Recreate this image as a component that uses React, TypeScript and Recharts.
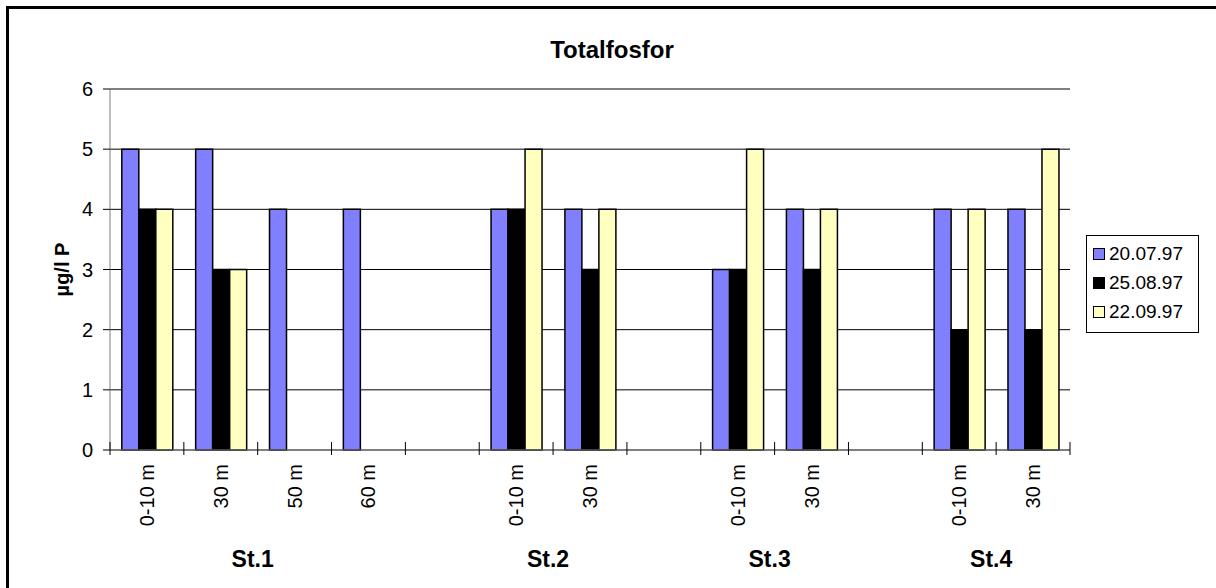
import React from 'react';
import { BarChart, Bar, XAxis, YAxis, CartesianGrid, Legend } from 'recharts';

const DEPTHS = ['0-10 m', '30 m', '50 m', '60 m', '', '0-10 m', '30 m', '', '0-10 m', '30 m', '', '0-10 m', '30 m'];
const STATIONS = ['St.1', 'St.1', 'St.1', 'St.1', '', 'St.2', 'St.2', '', 'St.3', 'St.3', '', 'St.4', 'St.4'];

const JULY = [5, 5, 4, 4, null, 4, 4, null, 3, 4, null, 4, 4];
const AUGUST = [4, 3, null, null, null, 4, 3, null, 3, 3, null, 2, 2];
const SEPTEMBER = [4, 3, null, null, null, 5, 4, null, 5, 4, null, 4, 5];

const Y_TICKS = [0, 1, 2, 3, 4, 5, 6];

const SERIES = [
	{ key: 'd1', name: '20.07.97', color: '#8080FF', values: JULY },
	{ key: 'd2', name: '25.08.97', color: '#000000', values: AUGUST },
	{ key: 'd3', name: '22.09.97', color: '#FFFFC0', values: SEPTEMBER },
];

const FONT = '"Liberation Sans", Arial, sans-serif';

const chartData = DEPTHS.map((depth, i) => {
	const row: Record<string, string | number | null> = { depth, station: STATIONS[i] };
	for (const s of SERIES) row[s.key] = s.values[i];
	return row;
});

function CategoryTick(props: any) {
	const { x, y, index } = props;
	const count = props.visibleTicksCount ?? DEPTHS.length;
	const band = (props.width ?? 960) / count;
	const label = DEPTHS[index];
	const station = STATIONS[index];
	let groupLabel = null;
	if (station && (index === 0 || STATIONS[index - 1] !== station)) {
		let n = 0;
		while (STATIONS[index + n] === station) n++;
		const gx = x + ((n - 1) / 2) * band - 5;
		groupLabel = (
			<text x={gx} y={y + 117} textAnchor="middle" fontFamily={FONT} fontSize={23} fontWeight="bold" fill="#000">
				{station}
			</text>
		);
	}
	return (
		<g>
			<line x1={x - band / 2} x2={x - band / 2} y1={y - 8} y2={y + 5} stroke="#000" strokeWidth={1} />
			{index === count - 1 && (
				<line x1={x + band / 2} x2={x + band / 2} y1={y - 8} y2={y + 5} stroke="#000" strokeWidth={1} />
			)}
			{label && (
				<text
					x={x}
					y={y + 14}
					dy="0.35em"
					textAnchor="end"
					transform={`rotate(-90, ${x}, ${y + 14})`}
					fontFamily={FONT}
					fontSize={20}
					fill="#000"
				>
					{label}
				</text>
			)}
			{groupLabel}
		</g>
	);
}

function LegendBox() {
	return (
		<div
			style={{
				border: '1px solid #000',
				background: '#fff',
				width: 111,
				height: 93,
				paddingTop: 3,
				boxSizing: 'content-box',
				fontFamily: FONT,
				fontSize: 19,
				color: '#000',
			}}
		>
			{SERIES.map((s) => (
				<div key={s.key} style={{ height: 29, display: 'flex', alignItems: 'center' }}>
					<span
						style={{
							display: 'inline-block',
							width: 10,
							height: 10,
							marginLeft: 6,
							marginRight: 4,
							background: s.color,
							border: '1.5px solid #000',
						}}
					/>
					<span>{s.name}</span>
				</div>
			))}
		</div>
	);
}

export default function App() {
	return (
		<div style={{ position: 'relative', width: 1216, height: 588, overflow: 'hidden', background: '#fff' }}>
			<style>{'body{margin:0;overflow:hidden;}'}</style>
			<div
				style={{
					position: 'absolute',
					left: 6,
					top: 6,
					width: 1300,
					height: 700,
					border: '3px solid #000',
				}}
			/>
			<div
				style={{
					position: 'absolute',
					left: 0,
					top: 38,
					width: 1224,
					textAlign: 'center',
					fontFamily: FONT,
					fontSize: 24,
					lineHeight: '24px',
					fontWeight: 'bold',
					color: '#000',
				}}
			>
				Totalfosfor
			</div>
			<BarChart
				width={1216}
				height={588}
				data={chartData}
				margin={{ top: 89, right: 146, bottom: 0, left: 60 }}
				barCategoryGap="16%"
				barGap={0}
				style={{ position: 'absolute', left: 0, top: 0 }}
			>
				<CartesianGrid vertical={false} stroke="#000" strokeWidth={1} />
				<XAxis
					dataKey="depth"
					interval={0}
					height={138}
					tickSize={0}
					tickMargin={0}
					tickLine={false}
					axisLine={{ stroke: '#808080', strokeWidth: 1 }}
					tick={<CategoryTick />}
					allowDuplicatedCategory
				/>
				<YAxis
					width={50}
					domain={[0, 6]}
					ticks={Y_TICKS}
					interval={0}
					tickSize={7}
					tickMargin={10}
					axisLine={{ stroke: '#808080', strokeWidth: 1 }}
					tickLine={{ stroke: '#000' }}
					tick={{ fontSize: 20, fill: '#000', fontFamily: FONT }}
					label={{
						value: 'µg/l P',
						angle: -90,
						position: 'center',
						dx: -23,
						fontFamily: FONT,
						fontSize: 20,
						fontWeight: 'bold',
						fill: '#000',
					}}
				/>
				<Legend
					layout="horizontal"
					align="center"
					verticalAlign="middle"
					wrapperStyle={{ left: 1086, top: 235, width: 113 }}
					content={() => <LegendBox />}
				/>
				{SERIES.map((s) => (
					<Bar
						key={s.key}
						dataKey={s.key}
						name={s.name}
						fill={s.color}
						stroke="#000"
						strokeWidth={1.5}
						isAnimationActive={false}
					/>
				))}
			</BarChart>
		</div>
	);
}
